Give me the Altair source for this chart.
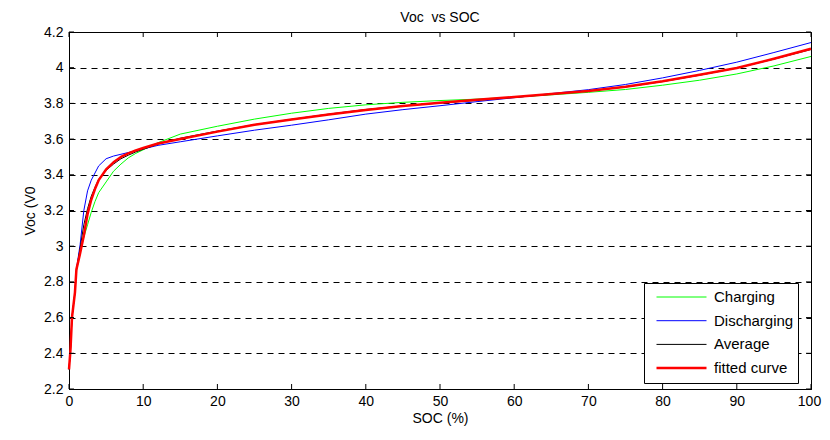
import altair as alt
import pandas as pd

# ---------------- data ----------------
soc = [0, 0.2, 0.4, 0.8, 1.0, 1.5, 2, 2.5, 3, 3.5, 4, 5, 6, 7, 8, 9, 10, 12, 15,
       20, 25, 30, 35, 40, 45, 50, 55, 60, 65, 70, 75, 80, 85, 90, 95, 100]

charging = [2.31, 2.42, 2.60, 2.74, 2.86, 2.97, 3.05, 3.12, 3.19, 3.25, 3.30, 3.36,
            3.42, 3.46, 3.495, 3.52, 3.54, 3.58, 3.628,
            3.672, 3.712, 3.745, 3.772, 3.792, 3.806, 3.816, 3.824, 3.835, 3.848,
            3.862, 3.878, 3.902, 3.930, 3.965, 4.010, 4.063]

discharging = [2.31, 2.42, 2.60, 2.74, 2.87, 3.01, 3.20, 3.31, 3.37, 3.41, 3.45, 3.49,
               3.505, 3.515, 3.525, 3.535, 3.545, 3.565, 3.585,
               3.618, 3.650, 3.678, 3.708, 3.740, 3.765, 3.787, 3.810, 3.832, 3.855,
               3.877, 3.906, 3.943, 3.985, 4.031, 4.085, 4.141]

average = [2.31, 2.42, 2.60, 2.74, 2.865, 2.99, 3.12, 3.21, 3.28, 3.33, 3.375, 3.425,
           3.46, 3.49, 3.51, 3.528, 3.543, 3.572, 3.605,
           3.645, 3.681, 3.711, 3.740, 3.766, 3.786, 3.802, 3.817, 3.834, 3.851,
           3.870, 3.892, 3.922, 3.958, 3.998, 4.048, 4.102]

fitted = [2.31, 2.42, 2.60, 2.74, 2.87, 2.96, 3.06, 3.18, 3.26, 3.32, 3.37, 3.43,
          3.47, 3.50, 3.52, 3.537, 3.55, 3.575, 3.60,
          3.642, 3.680, 3.710, 3.738, 3.763, 3.785, 3.803, 3.820, 3.836, 3.852,
          3.870, 3.893, 3.924, 3.960, 3.998, 4.050, 4.106]

series_names = ["Charging", "Discharging", "Average", "fitted curve"]
series_colors = ["#00ff00", "#0000ff", "#000000", "#ff0000"]
series_widths = [1, 1, 1, 2.5]

x_ticks = [0, 10, 20, 30, 40, 50, 60, 70, 80, 90, 100]
y_ticks = [2.2, 2.4, 2.6, 2.8, 3.0, 3.2, 3.4, 3.6, 3.8, 4.0, 4.2]

# ---------------- tables ----------------
rows = []
for name, vals in zip(series_names, [charging, discharging, average, fitted]):
    for s, v in zip(soc, vals):
        rows.append({"SOC": s, "Voc": v, "series": name})
df = pd.DataFrame(rows)
xt = pd.DataFrame({"SOC": x_ticks})
yt = pd.DataFrame({"Voc": y_ticks})

W, H = 742, 357
FONT = "Liberation Sans"

xs = alt.Scale(domain=[0, 100], nice=False, zero=False)
ys = alt.Scale(domain=[2.2, 4.2], nice=False, zero=False)

x_axis = alt.Axis(values=x_ticks, title="SOC (%)", grid=False, ticks=False,
                  labelPadding=5, format="d", titlePadding=3,
                  labelOffset={"condition": {"test": "datum.value == 100", "value": -2},
                               "value": 0})
y_axis = alt.Axis(values=y_ticks, title="Voc (V0", grid=True, ticks=False,
                  gridDash=[6, 5], gridColor="#000000", gridWidth=1,
                  labelPadding=6, format=".1~f", titlePadding=6)

x_enc = alt.X("SOC:Q", scale=xs, axis=x_axis)
y_enc = alt.Y("Voc:Q", scale=ys, axis=y_axis)

legend = alt.Legend(title=None, orient="none", legendX=575, legendY=251,
                    symbolType="stroke", symbolSize=2500, symbolOffset=7,
                    clipHeight=20, rowPadding=3.7, padding=4,
                    labelFontSize=15, labelFont=FONT, labelColor="#000000",
                    labelOffset=6, strokeColor="#000000", fillColor="#ffffff",
                    cornerRadius=0)

color = alt.Color("series:N",
                  scale=alt.Scale(domain=series_names, range=series_colors),
                  legend=legend)
width_enc = alt.StrokeWidth("series:N",
                            scale=alt.Scale(type="ordinal", domain=series_names,
                                            range=series_widths),
                            legend=legend)

base = alt.Chart(df).mark_line(strokeCap="butt", strokeJoin="round").encode(
    x=x_enc, y=y_enc, color=color, strokeWidth=width_enc
)
line_layers = [base.transform_filter(alt.datum.series == n) for n in series_names]

tick_bottom = alt.Chart(xt).mark_rule(color="#000000").encode(
    x=x_enc, y=alt.value(H), y2=alt.value(H - 5))
tick_top = alt.Chart(xt).mark_rule(color="#000000").encode(
    x=x_enc, y=alt.value(0), y2=alt.value(5))
tick_left = alt.Chart(yt).mark_rule(color="#000000").encode(
    y=y_enc, x=alt.value(0), x2=alt.value(5))
tick_right = alt.Chart(yt).mark_rule(color="#000000").encode(
    y=y_enc, x=alt.value(W), x2=alt.value(W - 5))

chart = alt.layer(
    *line_layers, tick_bottom, tick_top, tick_left, tick_right
).properties(
    width=W, height=H,
    title=alt.TitleParams("Voc\u00a0 vs SOC", fontSize=14, fontWeight="normal",
                          font=FONT, color="#000000", anchor="middle",
                          baseline="bottom", offset=2, dy=16),
    autosize=alt.AutoSizeParams(type="none"),
    padding={"left": 61, "top": 24, "right": 11, "bottom": 46},
).configure_view(
    stroke="#000000", strokeWidth=1
).configure_axis(
    labelFont=FONT, titleFont=FONT, labelFontSize=14, titleFontSize=14,
    titleFontWeight="normal", labelColor="#000000", titleColor="#000000",
    domainColor="#000000", domainWidth=1, labelFlush=False
)

chart.save("out.html", embed_options={"renderer": "svg", "actions": False})
